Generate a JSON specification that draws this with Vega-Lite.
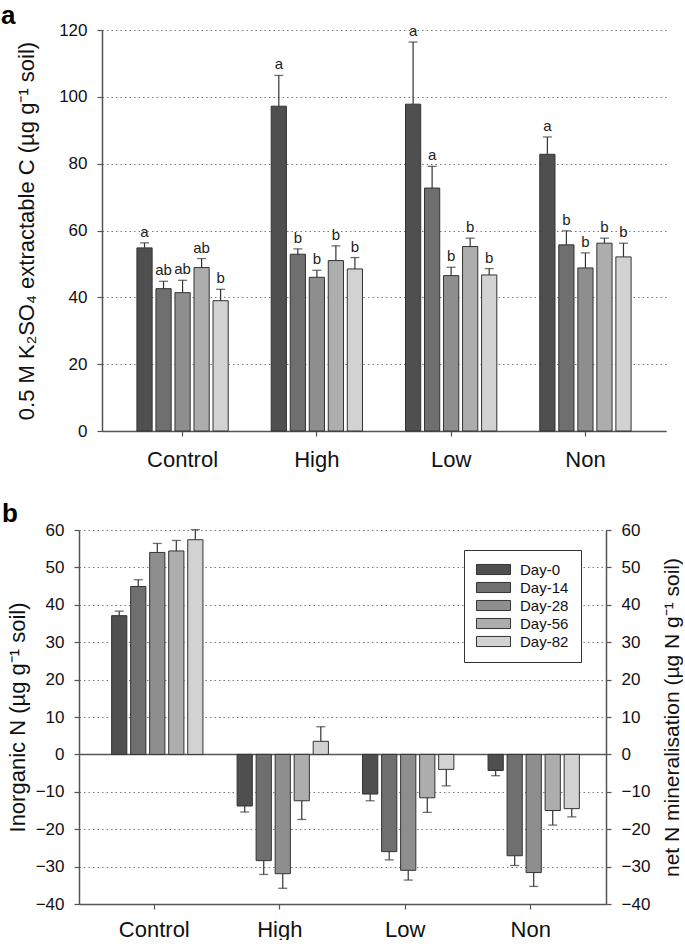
{
  "$schema": "https://vega.github.io/schema/vega-lite/v6.json",
  "padding": {"left": 1, "top": 3, "right": 0, "bottom": 0},
  "config": {
    "font": "Liberation Sans",
    "view": {"stroke": null},
    "axis": {"labelColor": "#111", "titleColor": "#111", "titleFontWeight": "normal", "domainColor": "#555", "tickColor": "#555", "domainWidth": 1.5, "tickWidth": 1.2}
  },
  "datasets": {
    "carbon": [
      {"grp": "Control", "day": "Day-0", "v": 54.8, "e": 56.3, "lab": "a"},
      {"grp": "Control", "day": "Day-14", "v": 42.6, "e": 44.8, "lab": "ab"},
      {"grp": "Control", "day": "Day-28", "v": 41.4, "e": 45.1, "lab": "ab"},
      {"grp": "Control", "day": "Day-56", "v": 48.9, "e": 51.6, "lab": "ab"},
      {"grp": "Control", "day": "Day-82", "v": 39.0, "e": 42.4, "lab": "b"},
      {"grp": "High", "day": "Day-0", "v": 97.2, "e": 106.4, "lab": "a"},
      {"grp": "High", "day": "Day-14", "v": 52.9, "e": 54.5, "lab": "b"},
      {"grp": "High", "day": "Day-28", "v": 46.0, "e": 48.1, "lab": "b"},
      {"grp": "High", "day": "Day-56", "v": 51.0, "e": 55.4, "lab": "b"},
      {"grp": "High", "day": "Day-82", "v": 48.5, "e": 51.9, "lab": "b"},
      {"grp": "Low", "day": "Day-0", "v": 97.8, "e": 116.4, "lab": "a"},
      {"grp": "Low", "day": "Day-14", "v": 72.7, "e": 79.2, "lab": "a"},
      {"grp": "Low", "day": "Day-28", "v": 46.5, "e": 49.0, "lab": "b"},
      {"grp": "Low", "day": "Day-56", "v": 55.2, "e": 57.7, "lab": "b"},
      {"grp": "Low", "day": "Day-82", "v": 46.7, "e": 48.6, "lab": "b"},
      {"grp": "Non", "day": "Day-0", "v": 82.8, "e": 88.0, "lab": "a"},
      {"grp": "Non", "day": "Day-14", "v": 55.7, "e": 59.9, "lab": "b"},
      {"grp": "Non", "day": "Day-28", "v": 48.8, "e": 53.3, "lab": "b"},
      {"grp": "Non", "day": "Day-56", "v": 56.2, "e": 57.7, "lab": "b"},
      {"grp": "Non", "day": "Day-82", "v": 52.1, "e": 56.2, "lab": "b"}
    ],
    "nitrogen": [
      {"grp": "Control", "day": "Day-0", "v": 37.1, "e": 38.3},
      {"grp": "Control", "day": "Day-14", "v": 44.9, "e": 46.7},
      {"grp": "Control", "day": "Day-28", "v": 54.0, "e": 56.4},
      {"grp": "Control", "day": "Day-56", "v": 54.4, "e": 57.2},
      {"grp": "Control", "day": "Day-82", "v": 57.4, "e": 60.1},
      {"grp": "High", "day": "Day-0", "v": -13.8, "e": -15.4},
      {"grp": "High", "day": "Day-14", "v": -28.4, "e": -32.1},
      {"grp": "High", "day": "Day-28", "v": -31.9, "e": -35.8},
      {"grp": "High", "day": "Day-56", "v": -12.4, "e": -17.4},
      {"grp": "High", "day": "Day-82", "v": 3.5, "e": 7.4},
      {"grp": "Low", "day": "Day-0", "v": -10.6, "e": -12.4},
      {"grp": "Low", "day": "Day-14", "v": -26.0, "e": -28.2},
      {"grp": "Low", "day": "Day-28", "v": -31.0, "e": -33.6},
      {"grp": "Low", "day": "Day-56", "v": -11.6, "e": -15.5},
      {"grp": "Low", "day": "Day-82", "v": -4.0, "e": -8.4},
      {"grp": "Non", "day": "Day-0", "v": -4.3, "e": -5.7},
      {"grp": "Non", "day": "Day-14", "v": -27.1, "e": -29.7},
      {"grp": "Non", "day": "Day-28", "v": -31.6, "e": -35.3},
      {"grp": "Non", "day": "Day-56", "v": -15.0, "e": -18.9},
      {"grp": "Non", "day": "Day-82", "v": -14.5, "e": -16.7}
    ]
  },
  "resolve": {"scale": {"color": "independent"}},
  "spacing": 31,
  "vconcat": [
    {"hconcat": [
    {
      "width": 23,
      "height": 10,
      "data": {"values": []},
      "mark": {"type": "point", "opacity": 0}
    },
    {
      "width": 564,
      "height": 401,
      "title": {"text": "a", "anchor": "start", "frame": "group", "dx": -101, "fontSize": 26, "fontWeight": "bold", "baseline": "alphabetic", "offset": -29, "color": "#000"},
      "data": {"name": "carbon"},
      "encoding": {
        "x": {"field": "grp", "type": "nominal", "sort": ["Control", "High", "Low", "Non"], "scale": {"paddingInner": 0.32, "paddingOuter": 0.26},
          "axis": {"title": null, "labelAngle": 0, "labelFontSize": 22, "labelPadding": 13, "tickSize": 5, "grid": false}},
        "xOffset": {"field": "day", "type": "nominal", "sort": ["Day-0", "Day-14", "Day-28", "Day-56", "Day-82"], "scale": {"paddingInner": 0.2, "paddingOuter": 0}}
      },
      "layer": [
        {
          "mark": {"type": "bar", "stroke": "#333", "strokeWidth": 1},
          "encoding": {
            "y": {"field": "v", "type": "quantitative", "scale": {"domain": [0, 120], "nice": false},
              "axis": {"title": "0.5 M K₂SO₄ extractable C (µg g⁻¹ soil)", "titleFontSize": 22, "titlePadding": 20, "values": [0, 20, 40, 60, 80, 100, 120], "labelFontSize": 17, "labelPadding": 10, "tickSize": 5, "grid": true, "gridDash": [1.5, 3], "gridColor": "#7a7a7a", "gridWidth": 1}},
            "color": {"field": "day", "type": "nominal", "scale": {"domain": ["Day-0", "Day-14", "Day-28", "Day-56", "Day-82"], "range": ["#4f4f4f", "#6f6f6f", "#8e8e8e", "#adadad", "#d2d2d2"]}, "legend": null}
          }
        },
        {
          "mark": {"type": "rule", "color": "#333", "strokeWidth": 1.2},
          "encoding": {"y": {"field": "v", "type": "quantitative", "axis": null}, "y2": {"field": "e"}}
        },
        {
          "mark": {"type": "tick", "orient": "horizontal", "color": "#333", "size": 9, "thickness": 1.3},
          "encoding": {"y": {"field": "e", "type": "quantitative", "axis": null}}
        },
        {
          "mark": {"type": "text", "baseline": "bottom", "dy": -3, "fontSize": 15, "color": "#222"},
          "encoding": {"y": {"field": "e", "type": "quantitative", "axis": null}, "text": {"field": "lab"}}
        }
      ],
      "resolve": {"axis": {"y": "independent"}}
    }
    ], "bounds": "flush", "spacing": 0},
    {
      "width": 527,
      "height": 374,
      "title": {"text": "b", "anchor": "start", "frame": "group", "dx": -77, "fontSize": 26, "fontWeight": "bold", "baseline": "alphabetic", "offset": -27, "color": "#000"},
      "data": {"name": "nitrogen"},
      "encoding": {
        "x": {"field": "grp", "type": "nominal", "sort": ["Control", "High", "Low", "Non"], "scale": {"paddingInner": 0.32, "paddingOuter": 0.26},
          "axis": {"title": null, "labelAngle": 0, "labelFontSize": 22, "labelPadding": 10, "tickSize": 5, "grid": false}},
        "xOffset": {"field": "day", "type": "nominal", "sort": ["Day-0", "Day-14", "Day-28", "Day-56", "Day-82"], "scale": {"paddingInner": 0.2, "paddingOuter": 0}}
      },
      "layer": [
        {
          "mark": {"type": "bar", "stroke": "#333", "strokeWidth": 1},
          "encoding": {
            "y": {"field": "v", "type": "quantitative", "scale": {"domain": [-40, 60], "nice": false},
              "axis": {"title": "Inorganic N (µg g⁻¹ soil)", "titleFontSize": 22, "titlePadding": 6, "values": [-40, -30, -20, -10, 0, 10, 20, 30, 40, 50, 60], "labelFontSize": 17, "labelPadding": 10, "tickSize": 5, "grid": true,
                "gridDash": {"condition": {"test": "datum.value === 0", "value": []}, "value": [1.5, 3]},
                "gridColor": {"condition": {"test": "datum.value === 0", "value": "#555"}, "value": "#7a7a7a"},
                "gridWidth": {"condition": {"test": "datum.value === 0", "value": 1.5}, "value": 1}}},
            "color": {"field": "day", "type": "nominal", "scale": {"domain": ["Day-0", "Day-14", "Day-28", "Day-56", "Day-82"], "range": ["#4f4f4f", "#6f6f6f", "#8e8e8e", "#adadad", "#d2d2d2"]},
              "legend": {"orient": "none", "legendX": 385, "legendY": 20, "title": null, "strokeColor": "#333", "padding": 12, "fillColor": "white", "symbolType": "M-1,-0.72H3.86V0.72H-1Z", "symbolSize": 196, "symbolStrokeColor": "#333", "symbolStrokeWidth": 1, "symbolOpacity": 1, "labelFontSize": 15, "labelOffset": 29, "rowPadding": 2, "labelColor": "#111"}}
          }
        },
        {
          "mark": {"type": "rule", "color": "#333", "strokeWidth": 1.2},
          "encoding": {"y": {"field": "v", "type": "quantitative",
            "axis": {"orient": "right", "title": "net N mineralisation (µg N g⁻¹ soil)", "titleFontSize": 21, "titlePadding": 12, "titleAngle": 270, "titleBaseline": "top", "values": [-40, -30, -20, -10, 0, 10, 20, 30, 40, 50, 60], "labelFontSize": 17, "labelPadding": 10, "tickSize": 5, "grid": false}},
            "y2": {"field": "e"}}
        },
        {
          "mark": {"type": "tick", "orient": "horizontal", "color": "#333", "size": 9, "thickness": 1.3},
          "encoding": {"y": {"field": "e", "type": "quantitative", "axis": null}}
        }
      ],
      "resolve": {"axis": {"y": "independent"}}
    }
  ]
}
